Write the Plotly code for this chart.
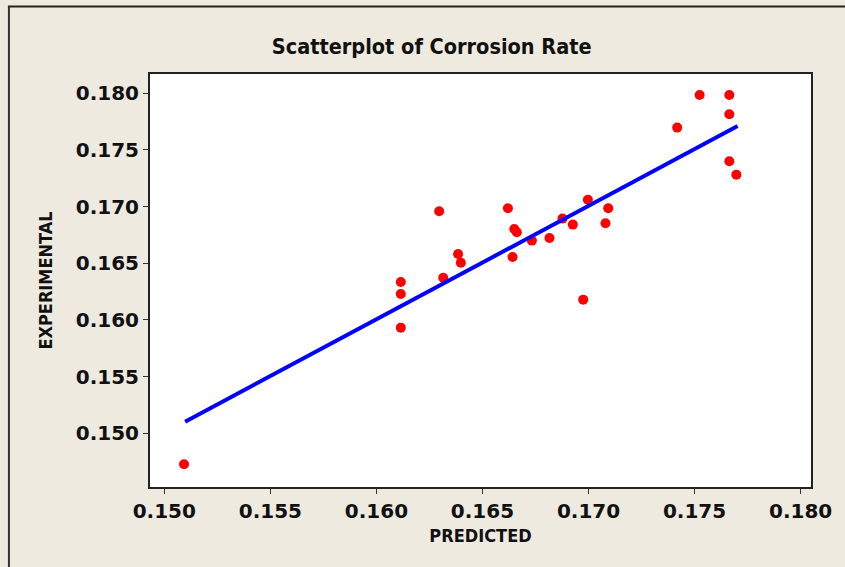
import plotly.graph_objects as go

# Data
predicted = [0.17524, 0.17664, 0.17664, 0.17418, 0.17664, 0.17697,
             0.16296, 0.16620, 0.16650, 0.16662, 0.16733, 0.16816,
             0.16877, 0.16926, 0.16997, 0.17093, 0.17080, 0.16385,
             0.16398, 0.16642, 0.16315, 0.16975, 0.16115, 0.16115,
             0.16115, 0.15093]
experimental = [0.17985, 0.17985, 0.17815, 0.17697, 0.17400, 0.17282,
                0.16959, 0.16985, 0.16803, 0.16774, 0.16700, 0.16723,
                0.16894, 0.16841, 0.17061, 0.16985, 0.16853, 0.16582,
                0.16505, 0.16556, 0.16373, 0.16179, 0.16335, 0.16229,
                0.15932, 0.14726]
fit_x = [0.15098, 0.17703]
fit_y = [0.15102, 0.17711]
tick_vals = [0.150, 0.155, 0.160, 0.165, 0.170, 0.175, 0.180]
tick_text = ["0.150", "0.155", "0.160", "0.165", "0.170", "0.175", "0.180"]

BG = "#EEEAE0"
TICKFONT = dict(family="DejaVu Sans", size=20, color="#111111")
LABELFONT = dict(family="DejaVu Sans Condensed, DejaVu Sans", size=18, color="#111111")

fig = go.Figure()
fig.add_trace(go.Scatter(
    x=predicted, y=experimental, mode="markers",
    marker=dict(color="#FF0000", size=10, line=dict(width=0)),
    showlegend=False, hoverinfo="x+y"))
fig.add_trace(go.Scatter(
    x=fit_x, y=fit_y, mode="lines",
    line=dict(color="#0000FF", width=4),
    showlegend=False, hoverinfo="skip"))

axis_common = dict(
    showgrid=False, zeroline=False,
    showline=True, linecolor="#222222", linewidth=2, mirror=True,
    ticks="outside", ticklen=5, tickwidth=1, tickcolor="#333333",
    tickvals=tick_vals, ticktext=tick_text,
    tickfont=dict(TICKFONT, weight="bold"),
)

fig.update_layout(
    width=845, height=567,
    margin=dict(l=150, r=34, t=74, b=80),
    paper_bgcolor=BG, plot_bgcolor="#FFFFFF",
    title=dict(text="<b>Scatterplot of Corrosion Rate</b>",
               font=dict(family="DejaVu Sans Condensed, DejaVu Sans", size=21.5, color="#111111"),
               x=431.7 / 845, xanchor="center", xref="container",
               y=1 - 46.5 / 567, yanchor="middle", yref="container"),
    xaxis=dict(axis_common, range=[0.149325, 0.18049],
               title=dict(text="<b>PREDICTED</b>", font=LABELFONT, standoff=7)),
    yaxis=dict(axis_common, range=[0.14526, 0.1817],
               title=dict(text="<b>EXPERIMENTAL</b>", font=LABELFONT, standoff=18)),
    shapes=[
        dict(type="line", xref="paper", yref="paper",
             x0=(8 - 150) / 660.7, x1=(845 - 150) / 660.7,
             y0=(487 - 6.5) / 413, y1=(487 - 6.5) / 413,
             line=dict(color="#222222", width=2)),
        dict(type="line", xref="paper", yref="paper",
             x0=(9 - 150) / 660.7, x1=(9 - 150) / 660.7,
             y0=(487 - 6.5) / 413, y1=(487 - 567) / 413,
             line=dict(color="#333333", width=2)),
    ],
)

fig.write_html("out.html")
